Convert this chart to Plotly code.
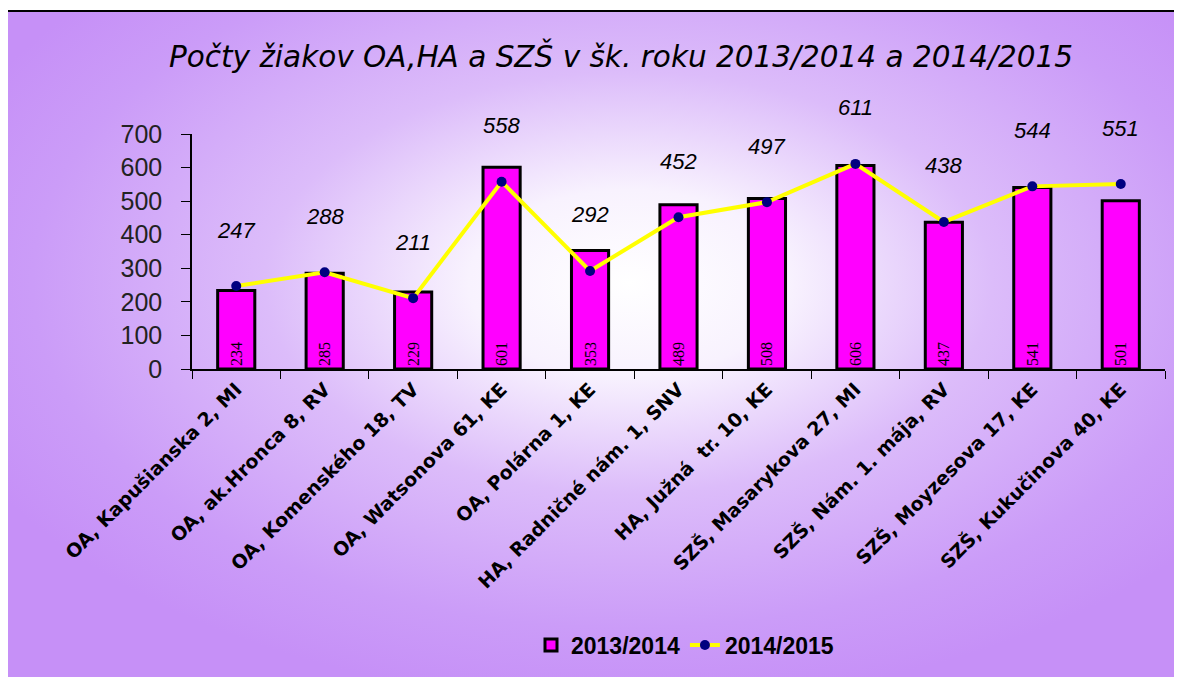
import base64
import plotly.graph_objects as go

categories = [
    "OA, Kapušianska 2, MI",
    "OA, ak.Hronca 8, RV",
    "OA, Komenského 18, TV",
    "OA, Watsonova 61, KE",
    "OA, Polárna 1, KE",
    "HA, Radničné nám. 1, SNV",
    "HA, Južná  tr. 10, KE",
    "SZŠ, Masarykova 27, MI",
    "SZŠ, Nám. 1. mája, RV",
    "SZŠ, Moyzesova 17, KE",
    "SZŠ, Kukučinova 40, KE",
]
values_2013 = [234, 285, 229, 601, 353, 489, 508, 606, 437, 541, 501]
values_2014 = [247, 288, 211, 558, 292, 452, 497, 611, 438, 544, 551]
series_names = ["2013/2014", "2014/2015"]
title_text = "Počty žiakov OA,HA a SZŠ v šk. roku 2013/2014 a 2014/2015"

# page body has a default 8px margin; positions below are screen pixels
OFF = 8
W, H = 1182, 677
L, R, T, B = 192 - OFF, 1165 - OFF, 134 - OFF, 369 - OFF
pw, ph = R - L, B - T


def px2x(px):
    return (px - OFF - L) / pw


def px2y(py):
    return (B - (py - OFF)) / ph


svg = """<svg xmlns='http://www.w3.org/2000/svg' width='1174' height='670' viewBox='0 0 1174 670' preserveAspectRatio='none'>
<defs><radialGradient id='g' cx='0.53' cy='0.40' r='0.62' gradientUnits='objectBoundingBox'>
<stop offset='0' stop-color='#ffffff'/>
<stop offset='0.22' stop-color='#f8f2fe'/>
<stop offset='0.5' stop-color='#dcbcfa'/>
<stop offset='0.82' stop-color='#cb9cf8'/>
<stop offset='1' stop-color='#c690f7'/>
</radialGradient></defs>
<rect x='0' y='0' width='1174' height='670' fill='url(#g)'/>
</svg>"""
src = "data:image/svg+xml;base64," + base64.b64encode(svg.encode()).decode()

fig = go.Figure()
fig.add_trace(go.Bar(
    x=categories, y=values_2013, name=series_names[0],
    width=0.42,
    marker=dict(color="#ff00ff", line=dict(color="#000000", width=3)),
    text=[str(v) for v in values_2013],
    textposition="inside", insidetextanchor="start", textangle=-90,
    textfont=dict(family="Liberation Serif", size=16, color="#000000"),
    constraintext="none",
))
fig.add_trace(go.Scatter(
    x=categories, y=values_2014, name=series_names[1],
    mode="lines+markers",
    line=dict(color="#ffff00", width=4),
    marker=dict(color="#000080", size=10),
))

for c, v in zip(categories, values_2014):
    fig.add_annotation(
        x=c, y=v, text=str(v), showarrow=False, yshift=56,
        font=dict(family="Liberation Sans", size=22, color="#000000",
                  style="italic"),
        xref="x", yref="y",
    )

x0, x1 = px2x(7), px2x(1180)
y0, y1 = px2y(11), px2y(690)
fig.add_layout_image(dict(
    source=src, xref="paper", yref="paper",
    x=x0, y=y0, sizex=x1 - x0, sizey=y0 - y1,
    xanchor="left", yanchor="top", sizing="stretch", layer="below",
))
fig.add_shape(type="rect", xref="paper", yref="paper",
              x0=x0, x1=x1, y0=y1, y1=y0,
              line=dict(color="#000000", width=2), layer="below")

fig.update_layout(
    width=W, height=H,
    margin=dict(l=L, r=W - R, t=T, b=H - B),
    paper_bgcolor="#ffffff",
    plot_bgcolor="rgba(0,0,0,0)",
    title=dict(text="<i>" + title_text + "</i>", x=(621 - OFF) / W, xanchor="center",
               y=1 - (57 - OFF) / H, yanchor="middle",
               font=dict(family="DejaVu Sans", size=29.5, color="#000000")),
    showlegend=True,
    legend=dict(orientation="h", x=px2x(685), xanchor="center",
                y=px2y(645), yanchor="middle",
                bgcolor="rgba(0,0,0,0)",
                font=dict(family="Liberation Sans", size=23, color="#000000",
                          weight="bold")),
    xaxis=dict(
        tickangle=-45, tickson="boundaries", ticks="outside", ticklen=8,
        tickcolor="#000000", showline=True, linecolor="#000000", linewidth=1.5,
        showgrid=False, range=[-0.5, 10.5],
        tickfont=dict(family="DejaVu Sans", size=19, color="#000000", weight="bold"),
    ),
    yaxis=dict(
        range=[0, 700], dtick=100, ticks="outside", ticklen=9,
        tickcolor="#000000", showline=True, linecolor="#000000", linewidth=1.5,
        showgrid=False, zeroline=False, ticklabelstandoff=14,
        tickfont=dict(family="Liberation Sans", size=25, color="#222222"),
    ),
)

fig.write_html("out.html")
